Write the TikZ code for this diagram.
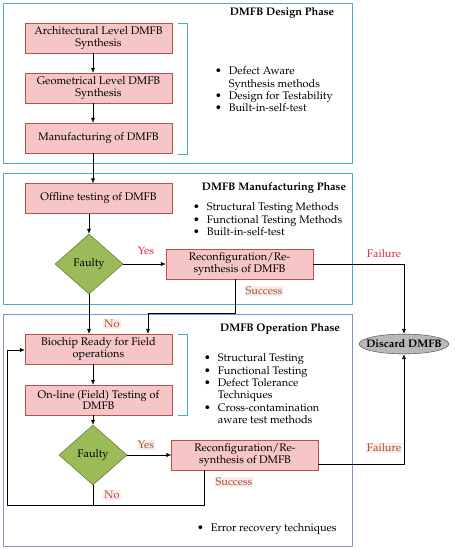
\documentclass[tikz,border=0pt]{standalone}
\usepackage[T1]{fontenc}
\usepackage{mathpazo}
\usetikzlibrary{shapes.geometric,arrows.meta}
\definecolor{boxfill}{HTML}{F6C6C6}
\definecolor{boxline}{HTML}{B5524F}
\definecolor{diafill}{HTML}{9BBB59}
\definecolor{dialine}{HTML}{4F6228}
\definecolor{tealline}{HTML}{4BACC6}
\definecolor{blueline}{HTML}{7F93CC}
\definecolor{redtxt}{HTML}{E0203C}
\definecolor{browntxt}{HTML}{A0522D}
\definecolor{lblbg}{HTML}{FCEAEA}

\begin{document}
\begin{tikzpicture}[x=1pt,y=-1pt,
    every node/.style={font=\fontsize{11}{11.8}\selectfont},
    stage/.style={draw=boxline,fill=boxfill,minimum width=147pt,minimum height=30pt,align=center,inner sep=1pt},
    test/.style={diamond,draw=dialine,fill=diafill,aspect=1.13,minimum width=68pt,minimum height=60pt,inner sep=0pt},
    title/.style={font=\fontsize{11}{11.5}\selectfont\bfseries},
    notes/.style={anchor=north west,inner sep=0pt,font=\fontsize{11}{12.3}\selectfont},
    lblred/.style={text=redtxt,inner sep=1pt},
    lblbrown/.style={text=browntxt,fill=lblbg,inner sep=1pt},
    arr/.style={-{Latex[length=5pt,width=4pt]}},
    brack/.style={draw=tealline}]
    \useasboundingbox (0,0) rectangle (455,550);
    \coordinate (col) at (93,0);
    % design phase
    \draw[tealline,thick] (3,3) rectangle (352,163);
    \node[title] (tdesign) at (282,13) {DMFB Design Phase};
    \node[stage] (arch) at (98.5,38) {Architectural Level DMFB\\Synthesis};
    \node[stage] (geo) at (98.5,88) {Geometrical Level DMFB\\Synthesis};
    \node[stage] (manu) at (98.5,138) {Manufacturing of DMFB};
    \draw[brack] (178,23) -- (187,23) -- (187,154) -- (178,154);
    \node[notes] (ndesign) at (215,66) {\begin{tabular}{@{}l@{\hspace{7pt}}l@{}}
        \textbullet & Defect Aware\\
                    & Synthesis methods\\
        \textbullet & Design for Testability\\
        \textbullet & Built-in-self-test
    \end{tabular}};
    % manufacturing phase
    \draw[tealline,thick] (3,173) rectangle (352,304);
    \node[title] (tmanu) at (274,188) {DMFB Manufacturing Phase};
    \node[stage] (offline) at (98.5,198.5) {Offline testing of DMFB};
    \node[notes] (nmanu) at (193,202) {\begin{tabular}{@{}l@{\hspace{7pt}}l@{}}
        \textbullet & Structural Testing Methods\\
        \textbullet & Functional Testing Methods\\
        \textbullet & Built-in-self-test
    \end{tabular}};
    \node[test] (fault1) at (89,264) {Faulty};
    \node[stage] (recon1) at (239.5,264) {Reconfiguration/Re-\\synthesis of DMFB};
    % operation phase
    \draw[blueline,thick] (3,314) rectangle (352,546);
    \node[title] (toper) at (280,329) {DMFB Operation Phase};
    \node[stage] (biochip) at (98.5,349) {Biochip Ready for Field\\operations};
    \node[stage] (online) at (98.5,400) {On-line (Field) Testing of\\DMFB};
    \draw[brack] (178,334) -- (187,334) -- (187,415) -- (178,415);
    \node[notes] (noper) at (204,353) {\begin{tabular}{@{}l@{\hspace{7pt}}l@{}}
        \textbullet & Structural Testing\\
        \textbullet & Functional Testing\\
        \textbullet & Defect Tolerance\\
                    & Techniques\\
        \textbullet & Cross-contamination\\
                    & aware test methods
    \end{tabular}};
    \node[test] (fault2) at (93,455) {Faulty};
    \node[stage] (recon2) at (245,455) {Reconfiguration/Re-\\synthesis of DMFB};
    \node[notes] (nrecov) at (197,523) {\begin{tabular}{@{}l@{\hspace{7pt}}l@{}}
        \textbullet & Error recovery techniques
    \end{tabular}};
    \node[ellipse,draw=black!75,fill=black!28,inner xsep=-6pt,inner ysep=3pt,
          font=\fontsize{11}{11.5}\selectfont\bfseries] (discard) at (404,344) {Discard DMFB};
    % connectors
    \draw[arr] (arch.south -| col) -- (geo.north -| col);
    \draw[arr] (geo.south -| col) -- (manu.north -| col);
    \draw[arr] (manu.south -| col) -- (offline.north -| col);
    \draw[arr] (offline.south -| fault1.north) -- (fault1.north);
    \draw[arr] (fault1.east) -- (recon1.west);
    \draw[arr] (recon1.east) -| (discard.north);
    \coordinate (s1) at (235,313);
    \coordinate (s1b) at (148,313);
    \draw[arr] (recon1.south -| s1) -- (s1) -- (s1b) -- (biochip.north -| s1b);
    \draw[arr] (fault1.south) -- (biochip.north -| fault1.south);
    \draw[arr] (biochip.south -| col) -- (online.north -| col);
    \draw[arr] (online.south -| fault2.north) -- (fault2.north);
    \draw[arr] (fault2.east) -- (recon2.west);
    \coordinate (f2) at (318,464);
    \draw[arr] (f2) -| (discard.south);
    \coordinate (s2) at (204,505);
    \coordinate (s2b) at (7,505);
    \coordinate (s2c) at (7,350);
    \draw[arr] (recon2.south -| s2) -- (s2) -- (s2b) -- (s2c) -- (biochip.west |- s2c);
    \draw (fault2.south) -- (fault2.south |- s2);
    % labels
    \node[lblred] (yes1) at (146,251) {Yes};
    \node[lblred] (fail1) at (384,254) {Failure};
    \node[lblbrown] (succ1) at (264,291) {Success};
    \node[lblbrown] (no1) at (112,324) {No};
    \node[lblbrown] (yes2) at (146,445) {Yes};
    \node[lblbrown] (fail2) at (384,448) {Failure};
    \node[lblbrown] (succ2) at (234,482) {Success};
    \node[lblbrown] (no2) at (112,495) {No};
\end{tikzpicture}
\end{document}
